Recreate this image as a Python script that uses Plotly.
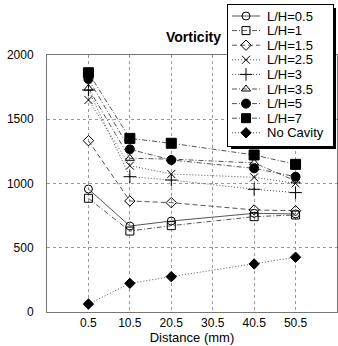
import plotly.graph_objects as go

distance = [0.5, 10.5, 20.5, 40.5, 50.5]
series_names = ["L/H=0.5", "L/H=1", "L/H=1.5", "L/H=2.5", "L/H=3", "L/H=3.5", "L/H=5", "L/H=7", "No Cavity"]
lh_0_5 = [957, 669, 708, 768, 763]
lh_1 = [885, 630, 672, 742, 755]
lh_1_5 = [1333, 864, 851, 794, 788]
lh_2_5 = [1650, 1139, 1074, 1048, 1001]
lh_3 = [1728, 1053, 1027, 955, 929]
lh_3_5 = [1741, 1196, 1190, 1160, 1020]
lh_5 = [1813, 1266, 1183, 1118, 1053]
lh_7 = [1862, 1351, 1313, 1222, 1149]
no_cavity = [62, 223, 275, 374, 426]
x_ticks = [0.5, 10.5, 20.5, 30.5, 40.5, 50.5]
y_ticks = [0, 500, 1000, 1500, 2000]

values = [lh_0_5, lh_1, lh_1_5, lh_2_5, lh_3, lh_3_5, lh_5, lh_7, no_cavity]
symbols = ["circle-open", "square-open", "diamond-open", "x-thin-open", "cross-thin-open",
           "triangle-up-open", "circle", "square", "diamond"]
dashes = ["solid", "5px,2px,1px,2px", "5px,3px", "1px,2px", "1px,2px",
          "5px,2px,1px,2px", "5px,2px,1px,2px", "5px,2px,1px,2px", "1px,2px"]
sizes = [8, 8, 8, 8, 9, 8, 9, 10, 8]

# pixel geometry of the figure
W, H = 338, 346
L, R, T, B = 47, 1, 5, 34
plot_top = 55
paper_h = H - T - B
main_top = (H - B - plot_top) / paper_h
leg_x0, leg_x1, leg_y0, leg_y1 = 228, 333, 5, 146


def px_x(px):
    return (px - L) / (W - L - R)


def px_y(py):
    return (H - B - py) / paper_h


fig = go.Figure()
for name, vals, sym, d, s in zip(series_names, values, symbols, dashes, sizes):
    fig.add_trace(go.Scatter(
        x=distance, y=vals, name=name, mode="lines+markers", showlegend=False,
        line=dict(color="#555555", width=1, dash=d),
        marker=dict(symbol=sym, size=s, color="black",
                    line=dict(color="black", width=1)),
    ))

# hand-built legend on an inset axis (rows index = series order)
row_pitch = 14.6
leg_h = leg_y1 - leg_y0
top_off = 11 / row_pitch
annotations = []
for i, (name, sym, d, s) in enumerate(zip(series_names, symbols, dashes, sizes)):
    fig.add_trace(go.Scatter(
        x=[4, 32], y=[i, i], mode="lines", showlegend=False, xaxis="x2", yaxis="y2",
        line=dict(color="#555555", width=1, dash=d), hoverinfo="skip"))
    fig.add_trace(go.Scatter(
        x=[18], y=[i], mode="markers", showlegend=False, xaxis="x2", yaxis="y2",
        marker=dict(symbol=sym, size=min(s, 9), color="black",
                    line=dict(color="black", width=1)), hoverinfo="skip"))
    annotations.append(dict(x=37, y=i, xref="x2", yref="y2", text=name, showarrow=False,
                            xanchor="left", yanchor="middle",
                            font=dict(size=13, color="black")))

annotations.append(dict(text="<b>Vorticity</b>", xref="paper", yref="paper",
                        x=px_x(193), y=px_y(37), showarrow=False,
                        xanchor="center", yanchor="middle", font=dict(size=14)))

fig.update_layout(
    width=W, height=H,
    margin=dict(l=L, r=R, t=T, b=B, autoexpand=False),
    paper_bgcolor="white", plot_bgcolor="white",
    font=dict(family="Liberation Sans, Arial", size=12, color="black"),
    showlegend=False,
    xaxis=dict(range=[-9.5, 60.5], tickvals=x_ticks, ticktext=[str(v) for v in x_ticks],
               domain=[0, 1], automargin=False,
               showgrid=True, gridcolor="#999999", griddash="dot", gridwidth=1,
               showline=True, linecolor="#777777", mirror=True, zeroline=False,
               ticks="", title=dict(text="Distance (mm)", standoff=2, font=dict(size=13))),
    yaxis=dict(range=[0, 2000], tickvals=y_ticks, domain=[0, main_top], automargin=False,
               showgrid=True, gridcolor="#999999", griddash="dot", gridwidth=1,
               showline=True, linecolor="#777777", mirror=True, zeroline=False,
               ticks="", ticklabelstandoff=10),
    xaxis2=dict(domain=[px_x(leg_x0), px_x(leg_x1)], range=[0, leg_x1 - leg_x0],
                anchor="y2", showgrid=False, zeroline=False, showticklabels=False,
                showline=True, linecolor="black", linewidth=1, mirror=True, ticks="",
                fixedrange=True, automargin=False),
    yaxis2=dict(domain=[px_y(leg_y1), px_y(leg_y0)],
                range=[(leg_h / row_pitch) - top_off, -top_off],
                anchor="x2", showgrid=False, zeroline=False, showticklabels=False,
                showline=True, linecolor="black", linewidth=1, mirror=True, ticks="",
                fixedrange=True, automargin=False),
    annotations=annotations,
    shapes=[
        dict(type="rect", xref="paper", yref="paper",
             x0=px_x(leg_x1), x1=px_x(leg_x1 + 3), y0=px_y(leg_y1 + 3), y1=px_y(leg_y0 + 3),
             fillcolor="black", line=dict(width=0), layer="above"),
        dict(type="rect", xref="paper", yref="paper",
             x0=px_x(leg_x0 + 3), x1=px_x(leg_x1 + 3), y0=px_y(leg_y1 + 3), y1=px_y(leg_y1),
             fillcolor="black", line=dict(width=0), layer="above"),
    ],
)
fig.write_html("out.html", config={"displayModeBar": False},
               post_script="document.body.style.margin='0';document.body.style.overflow='hidden';")
